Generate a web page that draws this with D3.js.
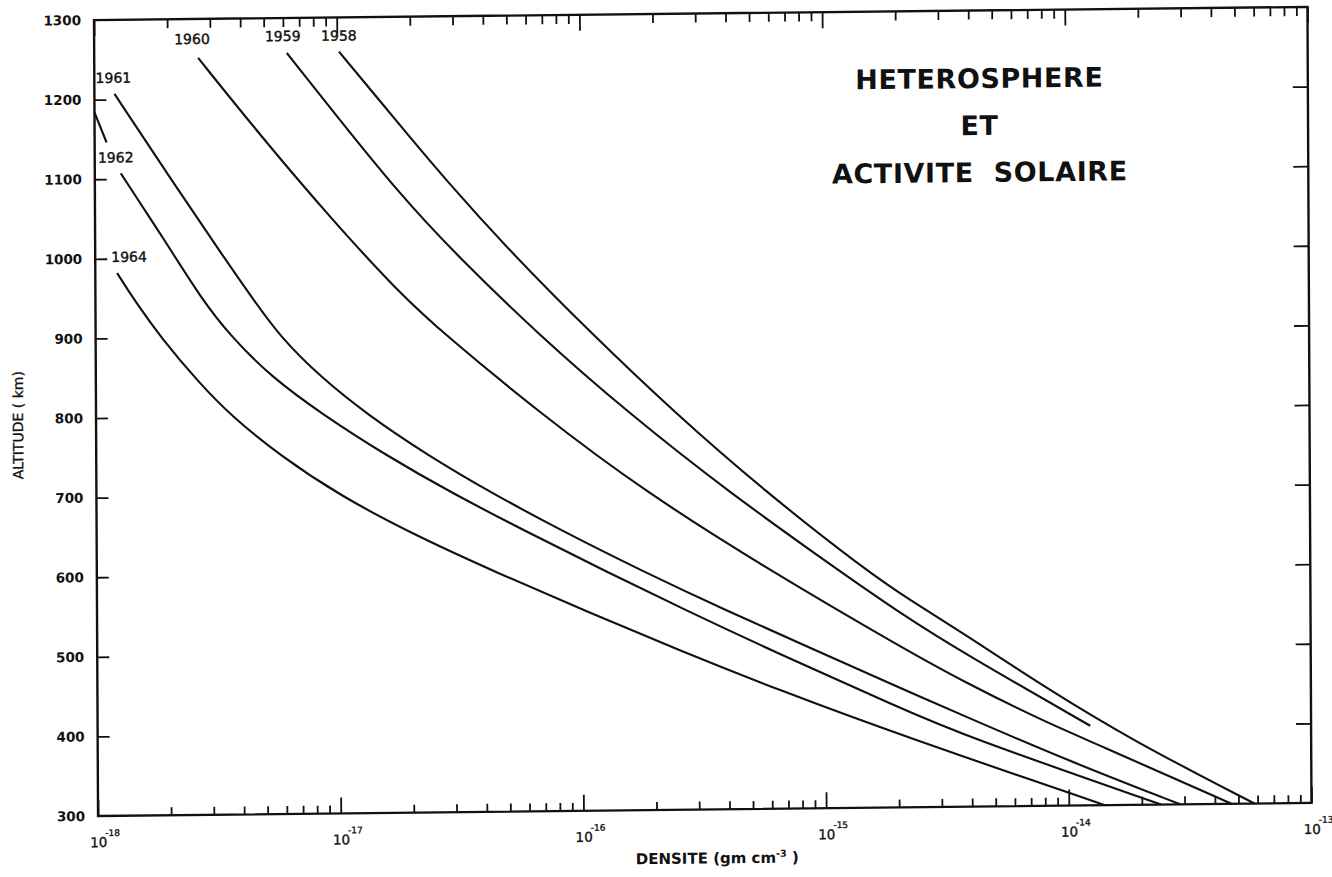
<!DOCTYPE html>
<html>
<head>
<meta charset="utf-8">
<script src="https://cdn.jsdelivr.net/npm/d3@7"></script>
<style>
  body { margin: 0; background: #fff; }
  svg { display: block; }
  text { font-family: "DejaVu Sans", sans-serif; fill: #111; }
</style>
</head>
<body>
<div id="chart"></div>
<script>
// Density (gm cm^-3) vs altitude (km), one list per year
const curve1958 = [[1.02e-17,1257],[1.80e-17,1165],[2.69e-17,1100],[5.25e-17,1000],[1.10e-16,900],[2.40e-16,800],[5.62e-16,700],[1.45e-15,600],[2.24e-15,560],[3.66e-15,519],[7.82e-15,451],[1.83e-14,381],[5.82e-14,300]];
const curve1959 = [[6.22e-18,1256],[9.33e-18,1187],[1.80e-17,1077],[3.08e-17,1000],[6.62e-17,900],[1.55e-16,800],[3.97e-16,700],[1.12e-15,600],[2.06e-15,543],[3.66e-15,494],[1.23e-14,400]];
const curve1960 = [[2.68e-18,1251],[4.90e-18,1150],[9.23e-18,1050],[1.76e-17,955],[2.75e-17,900],[6.76e-17,800],[1.82e-16,700],[5.89e-16,600],[2.06e-15,501],[3.66e-15,458],[7.82e-15,407],[1.22e-14,381],[4.68e-14,300]];
const curve1961 = [[1.21e-18,1207],[1.98e-18,1107],[3.39e-18,1000],[4.47e-18,947],[5.75e-18,900],[8.32e-18,850],[1.32e-17,800],[2.29e-17,750],[4.27e-17,700],[8.51e-17,650],[1.78e-16,600],[3.89e-16,550],[8.91e-16,500],[2.06e-15,449],[3.66e-15,415],[1.0e-14,356],[2.88e-14,300]];
const curve1962 = [[1.28e-18,1107],[1.93e-18,1023],[2.75e-18,947],[3.63e-18,900],[5.25e-18,850],[8.71e-18,800],[1.55e-17,750],[2.95e-17,700],[6.03e-17,650],[1.26e-16,600],[2.69e-16,550],[5.89e-16,500],[2.06e-15,424],[3.66e-15,390],[2.40e-14,300]];
const curve1963 = [[1.0e-18,1184],[1.12e-18,1146]];
const curve1964 = [[1.23e-18,982],[1.45e-18,947],[1.86e-18,900],[2.66e-18,843],[3.63e-18,800],[5.75e-18,750],[1.0e-17,700],[2.0e-17,650],[4.47e-17,600],[1.05e-16,550],[2.51e-16,500],[6.31e-16,450],[2.06e-15,390],[1.41e-14,300]];

const years = ["1958", "1959", "1960", "1961", "1962", "1963", "1964"];
const curves = [curve1958, curve1959, curve1960, curve1961, curve1962, curve1963, curve1964];
const yearLabels = ["1958", "1959", "1960", "1961", "1962", "", "1964"];

const decades = [1e-18, 1e-17, 1e-16, 1e-15, 1e-14, 1e-13];
const decadeExp = ["-18", "-17", "-16", "-15", "-14", "-13"];
const altTicks = [300, 400, 500, 600, 700, 800, 900, 1000, 1100, 1200, 1300];

const titleLines = ["HETEROSPHERE", "ET", "ACTIVITE  SOLAIRE"];

// label offsets from the top end of each curve (px)
const labelOffset = { "1958": [0, -11], "1959": [-4, -12], "1960": [-6, -14], "1961": [-1, -11], "1962": [-5, -11], "1964": [12, -11] };

const W = 1332, H = 877;
const plotL = 96, plotR = 1309.5, plotT = 13.5, plotB = 809.5;
const cx = (plotL + plotR) / 2, cy = (plotT + plotB) / 2;

const svg = d3.select("#chart").append("svg").attr("width", W).attr("height", H);

// the scanned sheet is slightly tilted
const g = svg.append("g")
  .attr("transform", `translate(${cx},${cy}) skewX(0.29) skewY(-0.62) translate(${-cx},${-cy})`);

const x = d3.scaleLog().domain([1e-18, 1e-13]).range([plotL, plotR]);
const y = d3.scaleLinear().domain([300, 1300]).range([plotB, plotT]);

const minorTicks = [];
decades.slice(0, -1).forEach(d => { for (let k = 2; k <= 9; k++) minorTicks.push(k * d); });

function styleAxis(sel) {
  sel.select(".domain").remove();
  sel.selectAll(".tick line").attr("stroke", "#111").attr("stroke-width", 1.8);
}

// bottom ticks (pointing up)
g.append("g").attr("transform", `translate(0,${plotB})`)
  .call(d3.axisBottom(x).tickValues(minorTicks).tickSize(-8).tickFormat(""))
  .call(styleAxis);
g.append("g").attr("transform", `translate(0,${plotB})`)
  .call(d3.axisBottom(x).tickValues(decades).tickSize(-16).tickFormat(""))
  .call(styleAxis);
// top ticks (pointing down)
g.append("g").attr("transform", `translate(0,${plotT})`)
  .call(d3.axisTop(x).tickValues(minorTicks).tickSize(-9).tickFormat(""))
  .call(styleAxis);
g.append("g").attr("transform", `translate(0,${plotT})`)
  .call(d3.axisTop(x).tickValues(decades).tickSize(-16).tickFormat(""))
  .call(styleAxis);

// left ticks with labels
const yAxisL = g.append("g").attr("transform", `translate(${plotL},0)`)
  .call(d3.axisLeft(y).tickValues(altTicks).tickSize(-12).tickPadding(13).tickFormat(d3.format("d")))
  .call(styleAxis);
yAxisL.selectAll(".tick text")
  .style("font-family", "'DejaVu Sans', sans-serif")
  .style("font-size", "13.5px").style("font-weight", "bold").attr("fill", "#111");
yAxisL.selectAll(".tick").filter(d => d === 300 || d === 1300).select("line").remove();

// right ticks
g.append("g").attr("transform", `translate(${plotR},0)`)
  .call(d3.axisRight(y).tickValues(altTicks.filter(d => d > 300 && d < 1300)).tickSize(-15).tickFormat(""))
  .call(styleAxis);

// frame
g.append("rect")
  .attr("x", plotL).attr("y", plotT)
  .attr("width", plotR - plotL).attr("height", plotB - plotT)
  .attr("fill", "none").attr("stroke", "#111").attr("stroke-width", 2.4);

// x tick labels 10^n, exponent as a raised tspan
const xl = g.append("g").selectAll("text").data(decades).join("text")
  .attr("x", d => x(d) - 8)
  .attr("y", plotB + 31)
  .style("font-size", "13.5px")
  .style("stroke", "#111").style("stroke-width", 0.35);
xl.append("tspan").text("10");
xl.append("tspan").attr("dx", -2).attr("dy", -11).style("font-size", "9px").text((d, i) => decadeExp[i]);

// axis titles
const xt = g.append("text")
  .attr("x", 715).attr("y", plotB + 54)
  .attr("text-anchor", "middle")
  .style("font-size", "15px").style("font-weight", "bold");
xt.append("tspan").text("DENSITE (gm  cm");
xt.append("tspan").attr("dy", -6).style("font-size", "9.5px").text("-3");
xt.append("tspan").attr("dy", 6).text(" )");

g.append("text")
  .attr("transform", `translate(23,${y(792)}) rotate(-90)`)
  .attr("text-anchor", "middle")
  .style("font-size", "14px")
  .style("stroke", "#111").style("stroke-width", 0.3)
  .text("ALTITUDE ( km)");

// curves
const line = d3.line().x(d => x(d[0])).y(d => y(d[1])).curve(d3.curveBasis);

g.append("g").selectAll("path").data(curves).join("path")
  .attr("d", line)
  .attr("fill", "none")
  .attr("stroke", "#111")
  .attr("stroke-width", 2.1);

// year labels at the top end of each curve
g.append("g").selectAll("text").data(years.filter((yr, i) => yearLabels[i] !== "")).join("text")
  .attr("x", yr => x(curves[years.indexOf(yr)][0][0]) + labelOffset[yr][0])
  .attr("y", yr => y(curves[years.indexOf(yr)][0][1]) + labelOffset[yr][1])
  .attr("text-anchor", "middle")
  .style("font-size", "14px")
  .style("stroke", "#111").style("stroke-width", 0.4)
  .text(yr => yr);

// title block
g.append("g").selectAll("text").data(titleLines).join("text")
  .attr("x", 981)
  .attr("y", (d, i) => 91 + i * 47)
  .attr("text-anchor", "middle")
  .attr("xml:space", "preserve")
  .style("white-space", "pre")
  .style("font-size", "27px")
  .style("font-weight", "bold")
  .style("letter-spacing", "0.6px")
  .text(d => d);
</script>
</body>
</html>
